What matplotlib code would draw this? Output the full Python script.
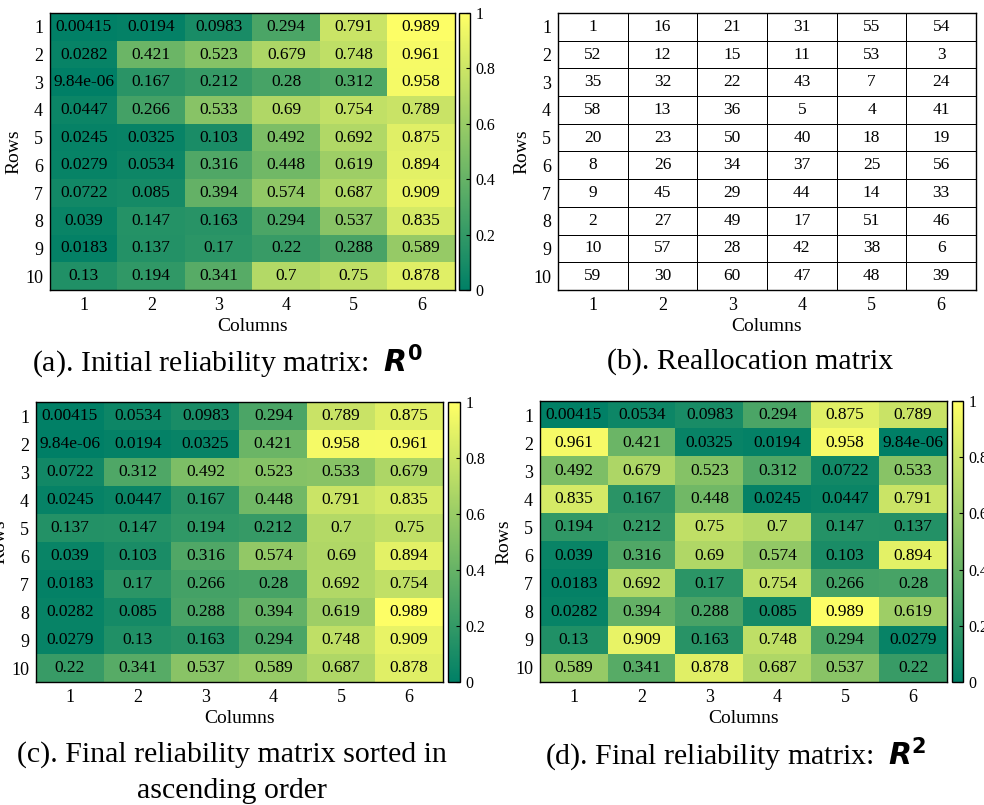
import numpy as np
import matplotlib
matplotlib.use("Agg")
import matplotlib.pyplot as plt
from matplotlib.colors import ListedColormap

plt.rcParams['font.family'] = ['Liberation Serif', 'DejaVu Serif']
plt.rcParams['mathtext.fontset'] = 'dejavusans'

rows = [str(i) for i in range(1, 11)]
cols = [str(i) for i in range(1, 7)]

R0 = [
    [0.00415, 0.0194, 0.0983, 0.294, 0.791, 0.989],
    [0.0282, 0.421, 0.523, 0.679, 0.748, 0.961],
    [9.84e-06, 0.167, 0.212, 0.28, 0.312, 0.958],
    [0.0447, 0.266, 0.533, 0.69, 0.754, 0.789],
    [0.0245, 0.0325, 0.103, 0.492, 0.692, 0.875],
    [0.0279, 0.0534, 0.316, 0.448, 0.619, 0.894],
    [0.0722, 0.085, 0.394, 0.574, 0.687, 0.909],
    [0.039, 0.147, 0.163, 0.294, 0.537, 0.835],
    [0.0183, 0.137, 0.17, 0.22, 0.288, 0.589],
    [0.13, 0.194, 0.341, 0.7, 0.75, 0.878],
]

realloc = [
    [1, 16, 21, 31, 55, 54],
    [52, 12, 15, 11, 53, 3],
    [35, 32, 22, 43, 7, 24],
    [58, 13, 36, 5, 4, 41],
    [20, 23, 50, 40, 18, 19],
    [8, 26, 34, 37, 25, 56],
    [9, 45, 29, 44, 14, 33],
    [2, 27, 49, 17, 51, 46],
    [10, 57, 28, 42, 38, 6],
    [59, 30, 60, 47, 48, 39],
]

Rsorted = [
    [0.00415, 0.0534, 0.0983, 0.294, 0.789, 0.875],
    [9.84e-06, 0.0194, 0.0325, 0.421, 0.958, 0.961],
    [0.0722, 0.312, 0.492, 0.523, 0.533, 0.679],
    [0.0245, 0.0447, 0.167, 0.448, 0.791, 0.835],
    [0.137, 0.147, 0.194, 0.212, 0.7, 0.75],
    [0.039, 0.103, 0.316, 0.574, 0.69, 0.894],
    [0.0183, 0.17, 0.266, 0.28, 0.692, 0.754],
    [0.0282, 0.085, 0.288, 0.394, 0.619, 0.989],
    [0.0279, 0.13, 0.163, 0.294, 0.748, 0.909],
    [0.22, 0.341, 0.537, 0.589, 0.687, 0.878],
]

R2 = [
    [0.00415, 0.0534, 0.0983, 0.294, 0.875, 0.789],
    [0.961, 0.421, 0.0325, 0.0194, 0.958, 9.84e-06],
    [0.492, 0.679, 0.523, 0.312, 0.0722, 0.533],
    [0.835, 0.167, 0.448, 0.0245, 0.0447, 0.791],
    [0.194, 0.212, 0.75, 0.7, 0.147, 0.137],
    [0.039, 0.316, 0.69, 0.574, 0.103, 0.894],
    [0.0183, 0.692, 0.17, 0.754, 0.266, 0.28],
    [0.0282, 0.394, 0.288, 0.085, 0.989, 0.619],
    [0.13, 0.909, 0.163, 0.748, 0.294, 0.0279],
    [0.589, 0.341, 0.878, 0.687, 0.537, 0.22],
]

cbar_ticks = [0, 0.2, 0.4, 0.6, 0.8, 1]
cbar_labels = ['0', '0.2', '0.4', '0.6', '0.8', '1']

W, H = 984, 805
fig = plt.figure(figsize=(W / 100, H / 100), dpi=100)


def box(l, t, r, b):
    return [l / W, 1 - b / H, (r - l) / W, (b - t) / H]


def style_axes(ax):
    ax.set_xticks(range(len(cols)))
    ax.set_xticklabels(cols, fontsize=13)
    ax.set_yticks(range(len(rows)))
    ax.set_yticklabels(rows, fontsize=13)
    ax.tick_params(length=0, pad=5)
    ax.set_xlabel('Columns', fontsize=14, labelpad=3)
    ax.set_ylabel('Rows', fontsize=14, labelpad=2)
    for s in ax.spines.values():
        s.set_linewidth(1.0)
        s.set_color('black')


def heat(axpos, cpos, data):
    ax = fig.add_axes(box(*axpos))
    arr = np.array(data)
    im = ax.imshow(arr, cmap='summer', vmin=0, vmax=1, aspect='auto',
                   interpolation='nearest')
    for i in range(arr.shape[0]):
        for j in range(arr.shape[1]):
            ax.text(j, i, '%.3g' % arr[i, j], ha='center', va='center',
                    fontsize=12.5, color='black')
    style_axes(ax)
    cax = fig.add_axes(box(*cpos))
    cb = fig.colorbar(im, cax=cax, ticks=cbar_ticks)
    cb.ax.set_yticklabels(cbar_labels, fontsize=11.5)
    cb.ax.tick_params(direction='in', length=3, width=0.8, pad=4)
    cb.outline.set_linewidth(1.0)
    return ax


heat((50, 13, 455, 290), (459, 13, 470, 290), R0)
heat((36, 402, 443, 682), (448, 402, 460, 682), Rsorted)
heat((540, 401, 947, 682), (952, 401, 963, 682), R2)

# Reallocation matrix
axb = fig.add_axes(box(558, 13, 976, 290))
rb = np.array(realloc)
axb.pcolormesh(np.arange(-0.5, rb.shape[1]), np.arange(-0.5, rb.shape[0]),
               np.zeros_like(rb, dtype=float), cmap=ListedColormap(['white']),
               edgecolors='black', linewidth=0.7)
axb.set_xlim(-0.5, rb.shape[1] - 0.5)
axb.set_ylim(rb.shape[0] - 0.5, -0.5)
for i in range(rb.shape[0]):
    for j in range(rb.shape[1]):
        axb.text(j, i, str(rb[i, j]), ha='center', va='center', fontsize=12.5)
style_axes(axb)

# Captions
fs = 21.5
fig.text(227 / W, 1 - 362 / H,
         r'(a). Initial reliability matrix:  $\mathbfit{R}^{\mathbf{0}}$',
         ha='center', va='center', fontsize=fs)
fig.text(750 / W, 1 - 362 / H, '(b). Reallocation matrix',
         ha='center', va='center', fontsize=fs)
fig.text(232 / W, 1 - 755 / H, '(c). Final reliability matrix sorted in',
         ha='center', va='center', fontsize=fs)
fig.text(232 / W, 1 - 791 / H, 'ascending order',
         ha='center', va='center', fontsize=fs)
fig.text(736 / W, 1 - 755 / H,
         r'(d). Final reliability matrix:  $\mathbfit{R}^{\mathbf{2}}$',
         ha='center', va='center', fontsize=fs)

fig.savefig('out.png', dpi=100)
